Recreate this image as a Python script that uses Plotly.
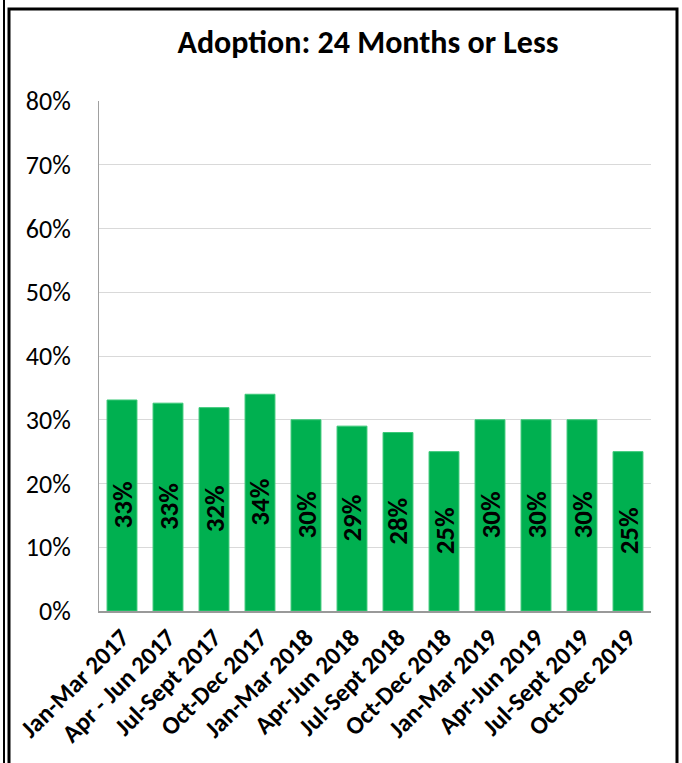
import plotly.graph_objects as go

categories = ["Jan-Mar 2017", "Apr - Jun 2017", "Jul-Sept 2017", "Oct-Dec 2017",
              "Jan-Mar 2018", "Apr-Jun 2018", "Jul-Sept 2018", "Oct-Dec 2018",
              "Jan-Mar 2019", "Apr-Jun 2019", "Jul-Sept 2019", "Oct-Dec 2019"]
values = [0.331, 0.326, 0.319, 0.340, 0.30, 0.29, 0.28, 0.25, 0.30, 0.30, 0.30, 0.25]
labels = [f"{round(v*100):.0f}%" for v in values]
title = "Adoption: 24 Months or Less"

W, H = 682, 763
L, R, T, B = 99, 31, 101, 152
pw, ph = W - L - R, H - T - B

def px(x):
    return (x - L) / pw

def py(y):
    return (H - B - y) / ph

FONT = "Carlito, Liberation Sans Narrow, Liberation Sans, sans-serif"

fig = go.Figure(go.Bar(
    x=categories, y=values,
    marker=dict(color="#00B050", line=dict(color="#3CC878", width=1)),
    width=0.65,
))

annotations = [
    dict(x=c, y=v / 2, xref="x", yref="y", text=f"<b>{t}</b>", showarrow=False,
         textangle=-90, font=dict(family=FONT, size=27, color="black"))
    for c, v, t in zip(categories, values, labels)
]

fig.update_layout(
    width=W, height=H,
    margin=dict(l=L, r=R, t=T, b=B, autoexpand=False),
    paper_bgcolor="white", plot_bgcolor="white",
    showlegend=False,
    annotations=annotations,
    title=dict(text=f"<b>{title}</b>", x=368 / W, xanchor="center",
               y=1 - 42 / H, yanchor="middle",
               font=dict(family=FONT, size=32, color="black")),
    xaxis=dict(tickangle=-45, showgrid=False, showline=True, linecolor="#999999",
               linewidth=2, ticks="",
               tickfont=dict(family=FONT, size=25, color="black", weight="bold")),
    yaxis=dict(range=[0, 0.8], dtick=0.1, tickformat=".0%", showgrid=True,
               gridcolor="#D9D9D9", gridwidth=1, showline=True, linecolor="#A0A0A0",
               linewidth=1, ticks="", zeroline=False, ticklabelstandoff=22,
               tickfont=dict(family=FONT, size=26, color="black")),
)

shapes = [
    dict(type="line", xref="paper", yref="paper", x0=px(4), x1=px(4), y0=py(-5), y1=py(H + 5),
         line=dict(color="black", width=2)),
    dict(type="rect", xref="paper", yref="paper", x0=px(9), x1=px(677), y0=py(9), y1=py(H + 10),
         line=dict(color="black", width=3)),
]
fig.update_layout(shapes=shapes)

fig.write_html("out.html", config={"displayModeBar": False},
               post_script="document.body.style.margin='0';document.body.style.overflow='hidden';")
